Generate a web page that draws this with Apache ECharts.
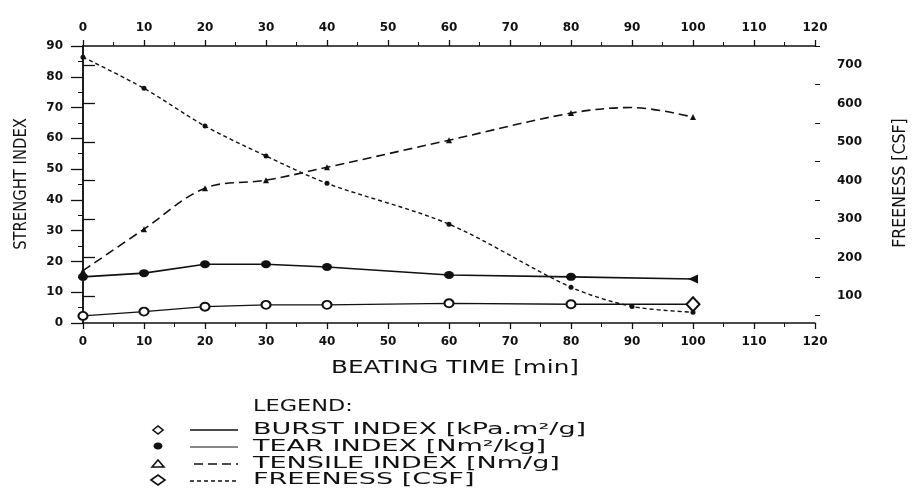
<!DOCTYPE html>
<html>
<head>
<meta charset="utf-8">
<script src="https://cdn.jsdelivr.net/npm/echarts@6/dist/echarts.min.js"></script>
<style>html,body{margin:0;padding:0;background:#fff}#c{width:922px;height:488px}</style>
</head>
<body>
<div id="c"></div>
<script>
// ---- data ----
var beatingTime = [0, 10, 20, 30, 40, 60, 80, 100];
var burstIndex  = [2.3, 3.7, 5.3, 5.9, 5.9, 6.4, 6.1, 6.1];
var tearIndex   = [15.0, 16.2, 19.1, 19.1, 18.2, 15.6, 15.0, 14.3];
var tensileTime = [0, 10, 20, 30, 40, 60, 80, 90, 100];
var tensileIndex= [17.0, 30.5, 43.8, 46.4, 50.6, 59.4, 68.2, 70.0, 66.9];
var freenessTime= [0, 10, 20, 30, 40, 60, 80, 90, 100];
var freeness    = [721, 640, 542, 464, 393, 287, 123, 73, 58];
var freenessTicks = [100, 200, 300, 400, 500, 600, 700];
var freenessMinor = [50, 150, 250, 350, 450, 550, 650, 750];
var legendRows = ['BURST INDEX [kPa.m\u00B2/g]', 'TEAR INDEX [Nm\u00B2/kg]', 'TENSILE INDEX [Nm/g]', 'FREENESS [CSF]'];

var INK = '#111';
function pairs(xs, ys) { return xs.map(function (x, i) { return [x, ys[i]]; }); }

var burstData = pairs(beatingTime, burstIndex);
burstData[burstData.length - 1] = { value: burstData[burstData.length - 1], symbol: 'emptyDiamond', symbolSize: [13, 14] };
var tearData = pairs(beatingTime, tearIndex);
tearData[tearData.length - 1] = { value: tearData[tearData.length - 1], symbol: 'triangle', symbolRotate: 90, symbolSize: [9, 10] };
var tensileData = pairs(tensileTime, tensileIndex).map(function (p) {
  return p[0] === 90 ? { value: p, symbol: 'none' } : p;
});
var freeData = pairs(freenessTime, freeness);

var tickFont = { color: INK, fontSize: 12, fontWeight: 'bold', fontFamily: 'DejaVu Sans' };
var axisLine = { show: true, lineStyle: { color: INK, width: 1.5 } };

var chart = echarts.init(document.getElementById('c'), null, { renderer: 'canvas' });
var txt = '"DejaVu Sans", sans-serif';
var lt = '';
chart.setOption({
  backgroundColor: '#fff',
  animation: false,
  grid: { left: 83, right: 107, top: 46, bottom: 165 },
  xAxis: [
    { type: 'value', position: 'bottom', min: 0, max: 120, interval: 10,
      axisLine: axisLine, axisTick: { show: true, length: 6, lineStyle: { color: INK, width: 1.3 } },
      minorTick: { show: true, splitNumber: 2, length: 4, lineStyle: { color: INK } },
      axisLabel: Object.assign({ margin: 13 }, tickFont), splitLine: { show: false } },
    { type: 'value', position: 'top', min: 0, max: 120, interval: 10,
      axisLine: axisLine, axisTick: { show: true, length: 6, lineStyle: { color: INK, width: 1.3 } },
      minorTick: { show: true, splitNumber: 2, length: 4, lineStyle: { color: INK } },
      axisLabel: Object.assign({ margin: 12 }, tickFont), splitLine: { show: false } }
  ],
  yAxis: [
    { type: 'value', position: 'left', min: 0, max: 90, interval: 10,
      axisLine: axisLine, axisTick: { show: true, length: 12, lineStyle: { color: INK, width: 1.3 } },
      minorTick: { show: true, splitNumber: 2, length: 5, lineStyle: { color: INK } },
      axisLabel: Object.assign({ margin: 20 }, tickFont), splitLine: { show: false } },
    { type: 'value', position: 'right', min: 30, max: 750,
      axisLine: axisLine,
      axisTick: { show: true, length: 12, customValues: freenessTicks, lineStyle: { color: INK, width: 1.3 } },
      axisLabel: Object.assign({ margin: 22, customValues: freenessTicks }, tickFont), splitLine: { show: false } },
    { type: 'value', position: 'right', min: 30, max: 750,
      axisLine: { show: false },
      axisTick: { show: true, length: 5, customValues: freenessMinor, lineStyle: { color: INK } },
      axisLabel: { show: false }, splitLine: { show: false } }
  ],
  series: [
    { name: 'burst', type: 'line', xAxisIndex: 0, yAxisIndex: 0, data: burstData,
      symbol: 'emptyCircle', symbolSize: [9, 8], lineStyle: { color: INK, width: 1.3 },
      itemStyle: { color: INK, borderColor: INK, borderWidth: 1.6 } },
    { name: 'tear', type: 'line', xAxisIndex: 0, yAxisIndex: 0, data: tearData,
      symbol: 'circle', symbolSize: [10, 8], lineStyle: { color: INK, width: 1.6 },
      itemStyle: { color: INK } },
    { name: 'tensile', type: 'line', xAxisIndex: 0, yAxisIndex: 0, data: tensileData, smooth: 0.35,
      symbol: 'triangle', symbolSize: 6, lineStyle: { color: INK, width: 1.6, type: [9, 5] },
      itemStyle: { color: INK } },
    { name: 'freeness', type: 'line', xAxisIndex: 0, yAxisIndex: 1, data: freeData, smooth: 0.3,
      symbol: 'circle', symbolSize: 5, lineStyle: { color: INK, width: 1.4, type: [4, 3] },
      itemStyle: { color: INK } }
  ],
  graphic: [
    { type: 'text', x: 22, y: 184, rotation: Math.PI / 2, scaleX: 0.87,
      style: { text: 'STRENGHT INDEX', font: '17px ' + txt, fill: INK, align: 'center', verticalAlign: 'middle' } },
    { type: 'text', x: 901, y: 183, rotation: Math.PI / 2, scaleX: 0.93,
      style: { text: 'FREENESS [CSF]', font: '17px ' + txt, fill: INK, align: 'center', verticalAlign: 'middle' } },
    { type: 'text', x: 455, y: 369, scaleX: 1.45,
      style: { text: 'BEATING TIME [min]', font: '17px ' + txt, fill: INK, align: 'center', verticalAlign: 'middle' } },
    { type: 'text', x: 253, y: 407, scaleX: 1.4,
      style: { text: 'LEGEND:', font: lt + '16px ' + txt, fill: INK, align: 'left', verticalAlign: 'middle' } },
    { type: 'text', x: 253, y: 430, scaleX: 1.69,
      style: { text: legendRows[0], font: lt + '16px ' + txt, fill: INK, align: 'left', verticalAlign: 'middle' } },
    { type: 'text', x: 253, y: 447, scaleX: 1.69,
      style: { text: legendRows[1], font: lt + '16px ' + txt, fill: INK, align: 'left', verticalAlign: 'middle' } },
    { type: 'text', x: 253, y: 464, scaleX: 1.69,
      style: { text: legendRows[2], font: lt + '16px ' + txt, fill: INK, align: 'left', verticalAlign: 'middle' } },
    { type: 'text', x: 253, y: 480, scaleX: 1.69,
      style: { text: legendRows[3], font: lt + '16px ' + txt, fill: INK, align: 'left', verticalAlign: 'middle' } },
    // legend symbols
    { type: 'polygon', shape: { points: [[153, 430], [158, 426], [163, 430], [158, 434]] },
      style: { fill: '#fff', stroke: INK, lineWidth: 1.6 } },
    { type: 'ellipse', shape: { cx: 158, cy: 446, rx: 4.5, ry: 3.5 }, style: { fill: INK } },
    { type: 'polygon', shape: { points: [[152, 467], [158, 460], [164, 467]] },
      style: { fill: '#fff', stroke: INK, lineWidth: 1.6 } },
    { type: 'polygon', shape: { points: [[151, 480], [158, 475], [165, 480], [158, 485]] },
      style: { fill: '#fff', stroke: INK, lineWidth: 1.6 } },
    // legend line samples
    { type: 'line', shape: { x1: 190, y1: 430, x2: 238, y2: 430 }, style: { stroke: INK, lineWidth: 1.4 } },
    { type: 'line', shape: { x1: 190, y1: 447, x2: 238, y2: 447 }, style: { stroke: INK, lineWidth: 1.2 } },
    { type: 'line', shape: { x1: 194, y1: 464, x2: 238, y2: 464 }, style: { stroke: INK, lineWidth: 1.4, lineDash: [9, 5] } },
    { type: 'line', shape: { x1: 190, y1: 481, x2: 238, y2: 481 }, style: { stroke: INK, lineWidth: 1.4, lineDash: [4, 3] } }
  ]
});
</script>
</body>
</html>
